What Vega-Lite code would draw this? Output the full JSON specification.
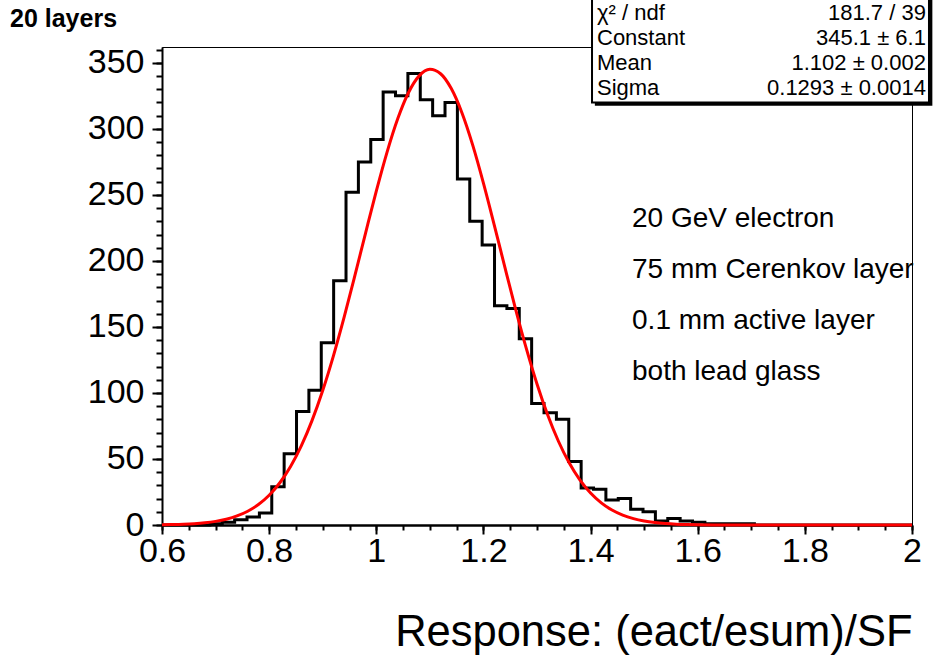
{
  "$schema": "https://vega.github.io/schema/vega-lite/v6.json",
  "width": 750,
  "height": 478,
  "autosize": {"type": "none"},
  "padding": {"left": 162, "top": 47, "right": 31, "bottom": 130},
  "background": "white",
  "config": {
    "view": {"stroke": "black", "strokeWidth": 1},
    "font": "Liberation Sans",
    "axis": {"domainColor": "black", "tickColor": "black", "labelColor": "black", "titleColor": "black", "grid": false, "labelFont": "Liberation Sans", "titleFont": "Liberation Sans"}
  },
  "datasets": {
    "hist": [
      {"x": 0.6, "n": 0}, {"x": 0.6201, "n": 0}, {"x": 0.6432, "n": 0}, {"x": 0.6663, "n": 0},
      {"x": 0.6894, "n": 1}, {"x": 0.7125, "n": 2}, {"x": 0.7356, "n": 4}, {"x": 0.7587, "n": 6},
      {"x": 0.7818, "n": 9}, {"x": 0.8049, "n": 29}, {"x": 0.828, "n": 54}, {"x": 0.8511, "n": 86},
      {"x": 0.8742, "n": 102}, {"x": 0.8973, "n": 138}, {"x": 0.9204, "n": 185}, {"x": 0.9435, "n": 252},
      {"x": 0.9666, "n": 275}, {"x": 0.9897, "n": 292}, {"x": 1.0128, "n": 328}, {"x": 1.0359, "n": 325},
      {"x": 1.059, "n": 342}, {"x": 1.0821, "n": 322}, {"x": 1.1052, "n": 310}, {"x": 1.1283, "n": 320},
      {"x": 1.1514, "n": 262}, {"x": 1.1745, "n": 230}, {"x": 1.1976, "n": 212}, {"x": 1.2207, "n": 166},
      {"x": 1.2438, "n": 164}, {"x": 1.2669, "n": 141}, {"x": 1.29, "n": 92}, {"x": 1.3131, "n": 85},
      {"x": 1.3362, "n": 80}, {"x": 1.3593, "n": 48}, {"x": 1.3824, "n": 28}, {"x": 1.4055, "n": 27},
      {"x": 1.4286, "n": 19}, {"x": 1.4517, "n": 20}, {"x": 1.4748, "n": 12}, {"x": 1.4979, "n": 10},
      {"x": 1.521, "n": 3}, {"x": 1.5441, "n": 5}, {"x": 1.5672, "n": 3}, {"x": 1.5903, "n": 2},
      {"x": 1.6134, "n": 1}, {"x": 1.6365, "n": 1}, {"x": 1.6596, "n": 1}, {"x": 1.6827, "n": 1},
      {"x": 1.7058, "n": 0}, {"x": 1.7289, "n": 0}, {"x": 2.0, "n": 0}
    ],
    "fit": [
      {"x": 0.6, "f": 0.18}, {"x": 0.62, "f": 0.33}, {"x": 0.64, "f": 0.58}, {"x": 0.66, "f": 1.0},
      {"x": 0.68, "f": 1.68}, {"x": 0.7, "f": 2.75}, {"x": 0.72, "f": 4.39}, {"x": 0.74, "f": 6.86},
      {"x": 0.76, "f": 10.44}, {"x": 0.78, "f": 15.53}, {"x": 0.8, "f": 22.56}, {"x": 0.82, "f": 31.99},
      {"x": 0.84, "f": 44.3}, {"x": 0.86, "f": 59.89}, {"x": 0.88, "f": 79.04}, {"x": 0.9, "f": 101.85},
      {"x": 0.92, "f": 128.14}, {"x": 0.94, "f": 157.42}, {"x": 0.96, "f": 188.82}, {"x": 0.98, "f": 221.12},
      {"x": 1.0, "f": 252.82}, {"x": 1.02, "f": 282.24}, {"x": 1.04, "f": 307.62}, {"x": 1.06, "f": 327.37},
      {"x": 1.08, "f": 340.14}, {"x": 1.1, "f": 345.06}, {"x": 1.12, "f": 341.77}, {"x": 1.14, "f": 330.51},
      {"x": 1.16, "f": 312.07}, {"x": 1.18, "f": 287.69}, {"x": 1.2, "f": 258.94}, {"x": 1.22, "f": 227.56},
      {"x": 1.24, "f": 195.25}, {"x": 1.26, "f": 163.57}, {"x": 1.28, "f": 133.79}, {"x": 1.3, "f": 106.84},
      {"x": 1.32, "f": 83.31}, {"x": 1.34, "f": 63.42}, {"x": 1.36, "f": 47.14}, {"x": 1.38, "f": 34.22},
      {"x": 1.4, "f": 24.24}, {"x": 1.42, "f": 16.77}, {"x": 1.44, "f": 11.33}, {"x": 1.46, "f": 7.47},
      {"x": 1.48, "f": 4.81}, {"x": 1.5, "f": 3.02}, {"x": 1.52, "f": 1.86}, {"x": 1.54, "f": 1.11},
      {"x": 1.56, "f": 0.65}, {"x": 1.58, "f": 0.37}, {"x": 1.6, "f": 0.21}, {"x": 1.65, "f": 0.05},
      {"x": 1.7, "f": 0.01}, {"x": 1.8, "f": 0.0}, {"x": 2.0, "f": 0.0}
    ],
    "one": [{}]
  },
  "layer": [
    {
      "data": {"name": "hist"},
      "mark": {"type": "line", "interpolate": "step-after", "color": "black", "strokeWidth": 3},
      "encoding": {
        "x": {"field": "x", "type": "quantitative",
          "scale": {"domain": [0.6, 2.0], "nice": false, "zero": false},
          "axis": {"orient": "bottom", "values": [0.6, 0.8, 1.0, 1.2, 1.4, 1.6, 1.8, 2.0], "format": "~g",
            "labelFontSize": 34, "tickSize": 9, "tickWidth": 2, "domainWidth": 2.5, "labelPadding": 0,
            "labelFlush": false, "labelOverlap": false,
            "title": "Response: (eact/esum)/SF", "titleFontSize": 43.5, "titleFontWeight": "normal",
            "titleAnchor": "end", "titlePadding": 43}},
        "y": {"field": "n", "type": "quantitative",
          "scale": {"domain": [0, 362], "nice": false, "zero": false},
          "axis": {"orient": "left", "values": [0, 50, 100, 150, 200, 250, 300, 350],
            "labelFontSize": 34, "tickSize": 10, "tickWidth": 2, "domainWidth": 2, "labelPadding": 8,
            "labelFlush": false, "labelOverlap": false, "title": null}}
      }
    },
    {
      "data": {"name": "fit"},
      "mark": {"type": "line", "interpolate": "monotone", "color": "#ff0000", "strokeWidth": 3},
      "encoding": {
        "x": {"field": "x", "type": "quantitative",
          "axis": {"orient": "bottom", "values": [0.6, 0.65, 0.7, 0.75, 0.8, 0.85, 0.9, 0.95, 1.0, 1.05, 1.1, 1.15, 1.2, 1.25, 1.3, 1.35, 1.4, 1.45, 1.5, 1.55, 1.6, 1.65, 1.7, 1.75, 1.8, 1.85, 1.9, 1.95, 2.0],
            "labels": false, "domain": false, "tickSize": 5, "tickWidth": 2, "title": null}},
        "y": {"field": "f", "type": "quantitative",
          "axis": {"orient": "left", "values": [0, 10, 20, 30, 40, 50, 60, 70, 80, 90, 100, 110, 120, 130, 140, 150, 160, 170, 180, 190, 200, 210, 220, 230, 240, 250, 260, 270, 280, 290, 300, 310, 320, 330, 340, 350, 360],
            "labels": false, "domain": false, "tickSize": 6, "tickWidth": 2, "title": null}}
      }
    },
    {
      "data": {"name": "one"},
      "mark": {"type": "text", "text": "20 layers", "align": "left", "baseline": "alphabetic", "fontSize": 25, "fontWeight": "bold", "color": "black"},
      "encoding": {
        "x": {"datum": 0.3163, "type": "quantitative", "axis": null},
        "y": {"datum": 377.3, "type": "quantitative", "axis": null}
      }
    },
    {
      "data": {"name": "one"},
      "mark": {"type": "rect", "color": "black"},
      "encoding": {
        "x": {"datum": 1.408, "type": "quantitative", "axis": null},
        "x2": {"datum": 2.038},
        "y": {"datum": 400, "type": "quantitative", "axis": null},
        "y2": {"datum": 317.5}
      }
    },
    {
      "data": {"name": "one"},
      "mark": {"type": "rect", "fill": "white", "stroke": "black", "strokeWidth": 2},
      "encoding": {
        "x": {"datum": 1.4027, "type": "quantitative", "axis": null},
        "x2": {"datum": 2.0317},
        "y": {"datum": 400, "type": "quantitative", "axis": null},
        "y2": {"datum": 320}
      }
    },
    {
      "data": {"name": "one"},
      "mark": {"type": "text", "text": ["χ² / ndf", "Constant", "Mean", "Sigma"], "align": "left", "baseline": "alphabetic", "fontSize": 22, "lineHeight": 25, "color": "black"},
      "encoding": {
        "x": {"datum": 1.412, "type": "quantitative", "axis": null},
        "y": {"datum": 382.6, "type": "quantitative", "axis": null}
      }
    },
    {
      "data": {"name": "one"},
      "mark": {"type": "text", "text": ["181.7 / 39", "345.1 ± 6.1", "1.102 ± 0.002", "0.1293 ± 0.0014"], "align": "right", "baseline": "alphabetic", "fontSize": 22, "lineHeight": 25, "color": "black"},
      "encoding": {
        "x": {"datum": 2.026, "type": "quantitative", "axis": null},
        "y": {"datum": 382.6, "type": "quantitative", "axis": null}
      }
    },
    {
      "data": {"name": "one"},
      "mark": {"type": "text", "text": ["20 GeV electron", "75 mm Cerenkov layer", "0.1 mm active layer", "both lead glass"], "align": "left", "baseline": "alphabetic", "fontSize": 28, "lineHeight": 51, "color": "black"},
      "encoding": {
        "x": {"datum": 1.4774, "type": "quantitative", "axis": null},
        "y": {"datum": 225.8, "type": "quantitative", "axis": null}
      }
    }
  ],
  "resolve": {"axis": {"x": "independent", "y": "independent"}}
}
